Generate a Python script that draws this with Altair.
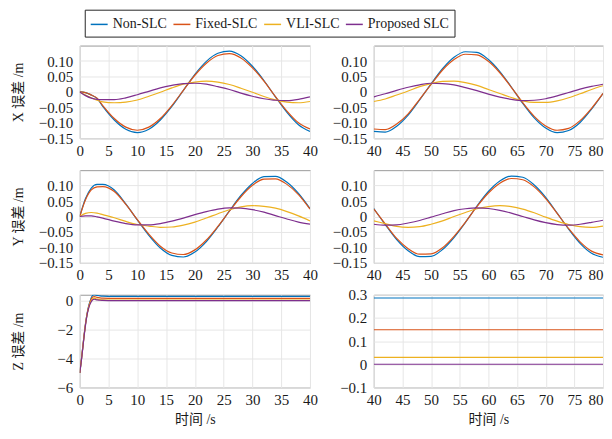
import altair as alt
import pandas as pd

SERIES = ["Non-SLC", "Fixed-SLC", "VLI-SLC", "Proposed SLC"]
COLORS = ["#0072BD", "#D95319", "#EDB120", "#7E2F8E"]
LATIN = "Liberation Serif"
FONT = "Liberation Serif, Noto Sans CJK SC"

# time samples (s) for X / Y error curves
T_XY = [0, 1, 2, 3, 4, 6, 8, 10, 12, 14, 16, 18, 20, 22, 24, 26, 28, 30, 32, 34, 36, 38, 40,
        42, 44, 46, 48, 50, 52, 54, 56, 58, 60, 62, 64, 66, 68, 70, 72, 74, 76, 78, 80]

X_NON = [0, -0.002, -0.010, -0.021, -0.047, -0.091, -0.121, -0.132, -0.121, -0.091, -0.047, 0.005,
         0.057, 0.099, 0.125, 0.132, 0.117, 0.083, 0.037, -0.016, -0.066, -0.106, -0.128,
         -0.130, -0.111, -0.075, -0.026, 0.026, 0.075, 0.112, 0.130, 0.128, 0.105, 0.066, 0.016,
         -0.037, -0.084, -0.117, -0.132, -0.125, -0.099, -0.056, -0.005]
X_FIX = [0, -0.002, -0.010, -0.020, -0.044, -0.086, -0.114, -0.124, -0.114, -0.086, -0.044, 0.005,
         0.054, 0.093, 0.118, 0.124, 0.110, 0.078, 0.035, -0.015, -0.062, -0.100, -0.120,
         -0.122, -0.104, -0.071, -0.024, 0.024, 0.071, 0.105, 0.122, 0.120, 0.099, 0.062, 0.015,
         -0.035, -0.079, -0.110, -0.124, -0.118, -0.093, -0.053, -0.005]
X_VLI = [0, -0.010, -0.019, -0.027, -0.032, -0.035, -0.033, -0.026, -0.014, -0.001, 0.013, 0.025,
         0.032, 0.035, 0.032, 0.024, 0.012, -0.001, -0.015, -0.026, -0.033, -0.035, -0.031,
         -0.023, -0.010, 0.003, 0.017, 0.027, 0.034, 0.035, 0.030, 0.021, 0.008, -0.005, -0.018,
         -0.029, -0.034, -0.034, -0.029, -0.019, -0.006, 0.008, 0.020]
X_PRO = [0, -0.012, -0.020, -0.024, -0.025, -0.025, -0.019, -0.009, 0.002, 0.013, 0.021, 0.027,
         0.028, 0.025, 0.017, 0.008, -0.004, -0.014, -0.022, -0.027, -0.028, -0.024, -0.016,
         -0.006, 0.005, 0.015, 0.023, 0.028, 0.027, 0.023, 0.014, 0.004, -0.007, -0.017, -0.024,
         -0.028, -0.027, -0.022, -0.013, -0.002, 0.009, 0.018, 0.025]

Y_NON = [0, 0.058, 0.092, 0.104, 0.104, 0.086, 0.041, -0.011, -0.061, -0.102, -0.126, -0.131,
         -0.115, -0.081, -0.034, 0.018, 0.068, 0.107, 0.129, 0.130, 0.111, 0.075, 0.026,
         -0.026, -0.075, -0.111, -0.130, -0.129, -0.107, -0.068, -0.019, 0.034, 0.081, 0.115, 0.131,
         0.127, 0.102, 0.062, 0.011, -0.041, -0.087, -0.119, -0.132]
Y_FIX = [0, 0.054, 0.086, 0.096, 0.097, 0.081, 0.039, -0.010, -0.057, -0.096, -0.118, -0.123,
         -0.108, -0.076, -0.032, 0.017, 0.064, 0.101, 0.121, 0.122, 0.104, 0.071, 0.024,
         -0.024, -0.071, -0.104, -0.122, -0.121, -0.101, -0.064, -0.018, 0.032, 0.076, 0.108, 0.123,
         0.119, 0.096, 0.058, 0.010, -0.039, -0.082, -0.112, -0.124]
Y_VLI = [0, 0.010, 0.013, 0.011, 0.006, -0.004, -0.016, -0.026, -0.031, -0.035, -0.034, -0.028,
         -0.018, -0.005, 0.009, 0.022, 0.031, 0.035, 0.033, 0.027, 0.016, 0.002, -0.014,
         -0.023, -0.032, -0.035, -0.033, -0.025, -0.014, 0.000, 0.013, 0.025, 0.032, 0.035, 0.032,
         0.024, 0.012, -0.002, -0.015, -0.026, -0.033, -0.035, -0.031]
Y_PRO = [0, 0.002, 0.002, -0.001, -0.005, -0.015, -0.023, -0.027, -0.027, -0.023, -0.015, -0.005,
         0.006, 0.016, 0.024, 0.028, 0.027, 0.022, 0.014, 0.003, -0.008, -0.018, -0.025,
         -0.028, -0.027, -0.021, -0.013, -0.002, 0.009, 0.019, 0.025, 0.028, 0.026, 0.020, 0.011,
         0.000, -0.011, -0.020, -0.026, -0.028, -0.025, -0.019, -0.012]

# time samples (s) for Z error curves
T_Z = [0, 0.25, 0.5, 0.75, 1, 1.25, 1.5, 1.75, 2, 2.25, 2.5, 3, 3.5, 4, 5, 6, 10, 20, 30, 40, 50, 60, 70, 80]
Z_NON = [-5.0, -4.2, -3.3, -2.4, -1.6, -0.95, -0.45, -0.1, 0.2, 0.37, 0.40, 0.36, 0.32, 0.30, 0.29,
         0.287, 0.286, 0.286, 0.286, 0.286, 0.286, 0.286, 0.286, 0.286]
Z_FIX = [-5.0, -4.2, -3.3, -2.4, -1.6, -0.97, -0.5, -0.15, 0.1, 0.24, 0.27, 0.22, 0.18, 0.16, 0.15,
         0.149, 0.149, 0.149, 0.149, 0.149, 0.149, 0.149, 0.149, 0.149]
Z_VLI = [-5.0, -4.2, -3.35, -2.45, -1.65, -1.0, -0.55, -0.22, 0.0, 0.13, 0.16, 0.10, 0.06, 0.04, 0.031,
         0.030, 0.030, 0.030, 0.030, 0.030, 0.030, 0.030, 0.030, 0.030]
Z_PRO = [-5.0, -4.25, -3.4, -2.5, -1.7, -1.05, -0.6, -0.28, -0.08, 0.05, 0.09, 0.05, 0.02, 0.01, 0.0,
         0.0, 0.0, 0.0, 0.0, 0.0, 0.0, 0.0, 0.0, 0.0]

Y_TICKS_XY = [-0.15, -0.1, -0.05, 0, 0.05, 0.1]
Y_TICKS_ZL = [-6, -4, -2, 0]
Y_TICKS_ZR = [-0.1, 0, 0.1, 0.2, 0.3]
X_TICKS_L = [0, 5, 10, 15, 20, 25, 30, 35, 40]
X_TICKS_R = [40, 45, 50, 55, 60, 65, 70, 75, 80]


def long_df(t, cols):
    rows = []
    for name, vals in zip(SERIES, cols):
        for ti, v in zip(t, vals):
            rows.append({"t": ti, "v": v, "s": name})
    return pd.DataFrame(rows)


DF_X = long_df(T_XY, [X_NON, X_FIX, X_VLI, X_PRO])
DF_Y = long_df(T_XY, [Y_NON, Y_FIX, Y_VLI, Y_PRO])
DF_Z = long_df(T_Z, [Z_NON, Z_FIX, Z_VLI, Z_PRO])

legend = alt.Legend(
    orient="none", legendX=5, legendY=-36, direction="horizontal", columns=4,
    title=None, symbolType="stroke", symbolSize=289, symbolStrokeWidth=1.5,
    labelFont=LATIN, labelFontSize=14, labelColor="#1a1a1a", labelOffset=4,
    columnPadding=3, padding=5, strokeColor="#262626", fillColor="white",
    cornerRadius=0,
)

AX = dict(labelFont=LATIN, labelFontSize=15, labelColor="#1a1a1a",
          titleFont=FONT, titleFontSize=14, titleFontWeight="normal", titleColor="#1a1a1a")


def panel(df, lo, hi, xticks, ydom, yticks, ylabel_expr, ytitle, xtitle, left, width):
    d = df[(df.t >= lo) & (df.t <= hi)]
    xaxis = alt.Axis(values=xticks, title=xtitle, labelFlush=False, format="d",
                     labelPadding=5, titlePadding=5,
                     labelAlign={"condition": {"test": "datum.value == 80", "value": "right"},
                                 "value": "center"}, **AX)
    if left:
        yaxis = alt.Axis(values=yticks, title=ytitle, labelExpr=ylabel_expr, labelPadding=7,
                         minExtent=44, maxExtent=44, titlePadding=10, **AX)
    else:
        yaxis = alt.Axis(values=yticks, title=None, labelExpr=ylabel_expr, labelPadding=7,
                         minExtent=45, maxExtent=45, **AX)
    return alt.Chart(d).mark_line(strokeWidth=1.2, interpolate="monotone", clip=True).encode(
        x=alt.X("t:Q", scale=alt.Scale(domain=[lo, hi], nice=False, zero=False), axis=xaxis),
        y=alt.Y("v:Q", scale=alt.Scale(domain=ydom, nice=False, zero=False), axis=yaxis),
        color=alt.Color("s:N", scale=alt.Scale(domain=SERIES, range=COLORS), sort=SERIES, legend=legend),
    ).properties(width=width, height=93)


LBL2 = "datum.value == 0 ? '0' : format(datum.value, '.2f')"
LBL1 = "datum.value == 0 ? '0' : format(datum.value, '.1f')"
LBL0 = "format(datum.value, 'd')"

p1 = panel(DF_X, 0, 40, X_TICKS_L, [-0.15, 0.15], Y_TICKS_XY, LBL2, "X 误差 /m", None, True, 231)
p2 = panel(DF_X, 40, 80, X_TICKS_R, [-0.15, 0.15], Y_TICKS_XY, LBL2, None, None, False, 230)
p3 = panel(DF_Y, 0, 40, X_TICKS_L, [-0.15, 0.15], Y_TICKS_XY, LBL2, "Y 误差 /m", None, True, 231)
p4 = panel(DF_Y, 40, 80, X_TICKS_R, [-0.15, 0.15], Y_TICKS_XY, LBL2, None, None, False, 230)
p5 = panel(DF_Z, 0, 40, X_TICKS_L, [-6, 0.4], Y_TICKS_ZL, LBL0, "Z 误差 /m", "时间 /s", True, 231)
p6 = panel(DF_Z, 40, 80, X_TICKS_R, [-0.1, 0.3], Y_TICKS_ZR, LBL1, None, "时间 /s", False, 230)

chart = alt.concat(p1, p2, p3, p4, p5, p6, columns=2).properties(
    spacing={"row": 32, "column": 64},
    bounds="flush",
    padding={"left": 3, "top": 0, "right": 0, "bottom": 0},
).configure_view(
    stroke="#9a9a9a", strokeWidth=1,
).configure_axis(
    domain=False, ticks=False, grid=True, gridColor="#e6e6e6", gridWidth=1,
)

chart.save("out.html", embed_options={"renderer": "svg", "actions": False})
